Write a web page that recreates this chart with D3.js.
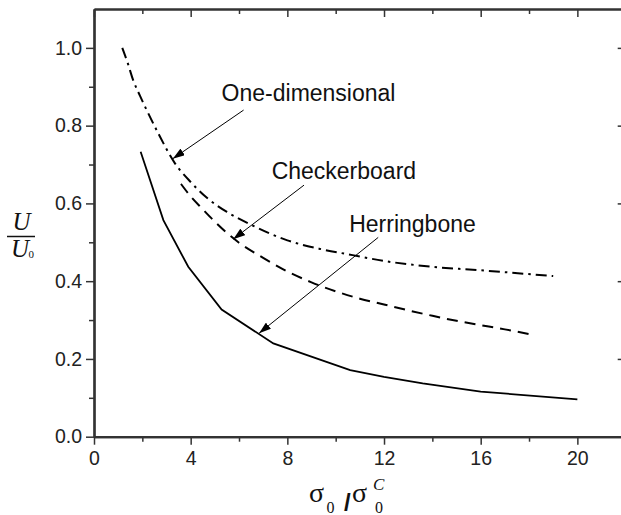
<!DOCTYPE html>
<html>
<head>
<meta charset="utf-8">
<script src="https://cdn.jsdelivr.net/npm/d3@7"></script>
<style>
  body { margin: 0; background: #fff; }
  .axis path, .axis line { stroke: #333; }
  .axis text { font-family: "Liberation Sans", Arial, sans-serif; font-size: 19.5px; fill: #222; }
</style>
</head>
<body>
<div id="chart"></div>
<script>
// data
var herringX = [1.93, 2.87, 3.9, 5.28, 7.42, 10.6, 12, 13.6, 16, 20];
var herringY = [0.733, 0.557, 0.437, 0.327, 0.24, 0.171, 0.154, 0.137, 0.116, 0.096];

var checkerX = [3.6, 4, 4.5, 5, 5.5, 6, 7, 8, 9, 10, 11, 12, 13, 14, 15, 16, 17, 18];
var checkerY = [0.65, 0.618, 0.585, 0.553, 0.524, 0.499, 0.46, 0.425, 0.397, 0.374, 0.355, 0.34, 0.325, 0.311, 0.298, 0.287, 0.276, 0.264];

var oneDX = [1.17, 1.4, 1.62, 1.9, 2.18, 2.66, 3.35, 4, 4.66, 5.5, 6.5, 8, 9.35, 10.7, 12, 14, 16, 19];
var oneDY = [1.0, 0.96, 0.917, 0.877, 0.84, 0.78, 0.703, 0.655, 0.615, 0.578, 0.545, 0.505, 0.483, 0.467, 0.452, 0.437, 0.428, 0.413];

var xTicks = [0, 4, 8, 12, 16, 20];
var xMinor = [2, 6, 10, 14, 18];
var yTicks = [0, 0.2, 0.4, 0.6, 0.8, 1.0];
var yMinor = [0.1, 0.3, 0.5, 0.7, 0.9];

// annotation labels + arrows (data units)
var labelNames = ["One-dimensional", "Checkerboard", "Herringbone"];
var labelX = [5.28, 7.35, 10.56];
var labelY = [0.864, 0.662, 0.526];
var arrowFrom = [[6.19, 0.84], [8.69, 0.647], [11.76, 0.5126]];
var arrowTo = [[3.26, 0.715], [5.76, 0.508], [6.83, 0.266]];

// SETUP
var width = 621, height = 515;
var mLeft = 94, mTop = 9, plotRight = 625.7, plotBottom = 436.7;

var svg = d3.select("#chart").append("svg")
    .attr("width", width)
    .attr("height", height);

var x = d3.scaleLinear().domain([0, 22]).range([mLeft, plotRight]);
var y = d3.scaleLinear().domain([0, 1.1]).range([plotBottom, mTop]);

var fmtY = d3.format(".1f");

// axes (bottom/left ticks outward, top/right inward)
function styleAxis(g, w) {
  g.select(".domain").attr("stroke-width", 2.2);
  g.selectAll(".tick line").attr("stroke-width", w);
}

svg.append("g").attr("class", "axis")
    .attr("transform", "translate(0," + plotBottom + ")")
    .call(d3.axisBottom(x).tickValues(xMinor).tickSize(5).tickSizeOuter(0).tickFormat(""))
    .call(styleAxis, 1.5);
svg.append("g").attr("class", "axis")
    .attr("transform", "translate(0," + plotBottom + ")")
    .call(d3.axisBottom(x).tickValues(xTicks).tickSize(8).tickPadding(6).tickSizeOuter(0))
    .call(styleAxis, 1.5);

svg.append("g").attr("class", "axis")
    .attr("transform", "translate(" + mLeft + ",0)")
    .call(d3.axisLeft(y).tickValues(yMinor).tickSize(5).tickSizeOuter(0).tickFormat(""))
    .call(styleAxis, 1.5);
svg.append("g").attr("class", "axis")
    .attr("transform", "translate(" + mLeft + ",0)")
    .call(d3.axisLeft(y).tickValues(yTicks).tickSize(8).tickPadding(4).tickSizeOuter(0).tickFormat(fmtY))
    .call(styleAxis, 1.5);

svg.append("g").attr("class", "axis")
    .attr("transform", "translate(0," + mTop + ")")
    .call(d3.axisTop(x).tickValues(xMinor).tickSize(-5).tickSizeOuter(0).tickFormat(""))
    .call(styleAxis, 1.5);
svg.append("g").attr("class", "axis")
    .attr("transform", "translate(0," + mTop + ")")
    .call(d3.axisTop(x).tickValues(xTicks).tickSize(-8).tickSizeOuter(0).tickFormat(""))
    .call(styleAxis, 1.5);

svg.append("g").attr("class", "axis")
    .attr("transform", "translate(" + plotRight + ",0)")
    .call(d3.axisRight(y).tickValues(yTicks).tickSize(-8).tickSizeOuter(0).tickFormat(""))
    .call(styleAxis, 1.5);

// curves: herringbone straight segments, the other two smooth
var line = d3.line()
    .x(function(d) { return x(d[0]); })
    .y(function(d) { return y(d[1]); });
var smooth = d3.line()
    .curve(d3.curveMonotoneX)
    .x(function(d) { return x(d[0]); })
    .y(function(d) { return y(d[1]); });

var series = [
  { xs: herringX, ys: herringY, dash: null, w: 1.8, gen: line },
  { xs: checkerX, ys: checkerY, dash: "11,7", w: 2, gen: smooth },
  { xs: oneDX, ys: oneDY, dash: "11,5,2.5,5", w: 2, gen: smooth }
];

series.forEach(function(s) {
  svg.append("path")
      .datum(d3.zip(s.xs, s.ys))
      .attr("fill", "none")
      .attr("stroke", "#000")
      .attr("stroke-width", s.w)
      .attr("stroke-dasharray", s.dash)
      .attr("d", s.gen);
});

// arrowheads
svg.append("defs").append("marker")
    .attr("id", "head")
    .attr("markerUnits", "userSpaceOnUse")
    .attr("viewBox", "0 0 12 8")
    .attr("refX", 12).attr("refY", 4)
    .attr("markerWidth", 12).attr("markerHeight", 8)
    .attr("orient", "auto")
  .append("path")
    .attr("d", "M0,0L12,4L0,8Z")
    .attr("fill", "#000");

svg.selectAll(".arrow")
    .data(d3.range(arrowFrom.length))
  .enter().append("line")
    .attr("class", "arrow")
    .attr("x1", function(i) { return x(arrowFrom[i][0]); })
    .attr("y1", function(i) { return y(arrowFrom[i][1]); })
    .attr("x2", function(i) { return x(arrowTo[i][0]); })
    .attr("y2", function(i) { return y(arrowTo[i][1]); })
    .attr("stroke", "#000")
    .attr("stroke-width", 1)
    .attr("marker-end", "url(#head)");

svg.selectAll(".lbl")
    .data(labelNames)
  .enter().append("text")
    .attr("class", "lbl")
    .attr("x", function(d, i) { return x(labelX[i]); })
    .attr("y", function(d, i) { return y(labelY[i]); })
    .attr("font-family", "Liberation Sans, Arial, sans-serif")
    .attr("font-size", 23)
    .attr("fill", "#111")
    .text(function(d) { return d; });

// y label: U / U0
var yl = svg.append("g")
    .attr("font-family", "Liberation Serif, Times New Roman, serif")
    .attr("font-style", "italic")
    .attr("fill", "#111");
yl.append("text").attr("x", 21.5).attr("y", 230).attr("text-anchor", "middle")
    .attr("font-size", 25).text("U");
yl.append("line").attr("x1", 7).attr("x2", 35).attr("y1", 236.5).attr("y2", 236.5)
    .attr("stroke", "#111").attr("stroke-width", 1.5);
yl.append("text").attr("x", 20).attr("y", 257).attr("text-anchor", "middle")
    .attr("font-size", 25).text("U");
yl.append("text").attr("x", 28.5).attr("y", 258).attr("font-style", "normal")
    .attr("font-size", 11).text("0");

// x label: sigma0 / sigma0^C
var xl = svg.append("g")
    .attr("font-family", "Liberation Serif, Times New Roman, serif")
    .attr("fill", "#111");
xl.append("text").attr("x", 309).attr("y", 502).attr("font-size", 28).text("σ");
xl.append("text").attr("x", 326.5).attr("y", 513).attr("font-size", 16).text("0");
xl.append("text").attr("x", 344).attr("y", 511).attr("font-size", 24)
    .attr("font-family", "Liberation Sans, Arial, sans-serif").attr("font-weight", "bold").text("/");
xl.append("text").attr("x", 352).attr("y", 502).attr("font-size", 28).text("σ");
xl.append("text").attr("x", 375).attr("y", 513).attr("font-size", 16).text("0");
xl.append("text").attr("x", 373).attr("y", 490).attr("font-size", 17)
    .attr("font-style", "italic").text("C");
</script>
</body>
</html>
